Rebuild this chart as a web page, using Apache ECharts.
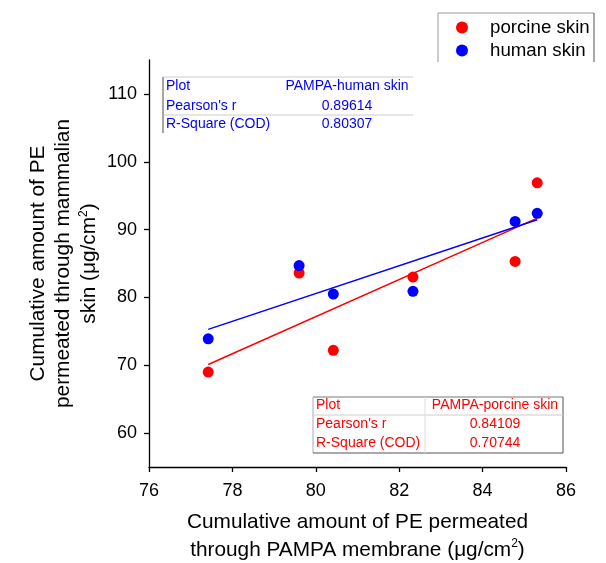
<!DOCTYPE html>
<html>
<head>
<meta charset="utf-8">
<script src="https://cdn.jsdelivr.net/npm/echarts@6/dist/echarts.min.js"></script>
<style>html,body{margin:0;padding:0;background:#fff}#c{width:606px;height:563px}</style>
</head>
<body>
<div id="c"></div>
<script>
// Data
const pampa = [77.42, 79.60, 80.42, 82.33, 84.78, 85.31];
const porcine = [69.0, 83.6, 72.2, 83.0, 85.3, 96.9];
const human = [73.9, 84.7, 80.5, 80.9, 91.2, 92.4];
const seriesNames = ['porcine skin', 'human skin'];
const xTicks = [76, 78, 80, 82, 84, 86];
const yTicks = [60, 70, 80, 90, 100, 110];
const tableLabels = ['Plot', "Pearson's r", 'R-Square (COD)'];
const humanTable = ['PAMPA-human skin', '0.89614', '0.80307'];
const porcineTable = ['PAMPA-porcine skin', '0.84109', '0.70744'];

function fit(xs, ys) {
  const n = xs.length;
  const mx = xs.reduce((a, b) => a + b, 0) / n;
  const my = ys.reduce((a, b) => a + b, 0) / n;
  let sxy = 0, sxx = 0;
  for (let i = 0; i < n; i++) { sxy += (xs[i] - mx) * (ys[i] - my); sxx += (xs[i] - mx) ** 2; }
  const b = sxy / sxx, a = my - b * mx;
  const x0 = Math.min(...xs), x1 = Math.max(...xs);
  return [[x0, a + b * x0], [x1, a + b * x1]];
}
const pairs = (xs, ys) => xs.map((x, i) => [x, ys[i]]);

const FONT = 'Liberation Sans, Arial, sans-serif';
const RED = '#ff0000', BLUE = '#0000ff';
const TFONT = '14px ' + FONT;

function tableTexts(x0, xc, ys, vals, color) {
  const out = [];
  tableLabels.forEach((t, i) => out.push({type: 'text', x: x0, y: ys[i], style: {text: t, fill: color, font: TFONT, align: 'left', verticalAlign: 'middle'}}));
  vals.forEach((t, i) => out.push({type: 'text', x: xc, y: ys[i], style: {text: t, fill: color, font: TFONT, align: 'center', verticalAlign: 'middle'}}));
  return out;
}
function ln(x1, y1, x2, y2, c, w) { return {type: 'line', shape: {x1, y1, x2, y2}, style: {stroke: c, lineWidth: w || 1}}; }

const chart = echarts.init(document.getElementById('c'), null, {renderer: 'canvas'});
chart.setOption({
  backgroundColor: '#fff',
  animation: false,
  textStyle: {fontFamily: FONT},
  grid: {left: 149, right: 40, top: 60, bottom: 96, containLabel: false, outerBoundsMode: 'none'},
  legend: {
    orient: 'vertical', left: 451, top: 11, itemWidth: 12, itemHeight: 12, itemGap: 0,
    icon: 'circle', data: seriesNames,
    textStyle: {fontSize: 18.7, color: '#000', fontFamily: FONT, lineHeight: 23, padding: [0, 0, 0, 17]}
  },
  xAxis: {
    type: 'value', min: xTicks[0], max: xTicks[xTicks.length - 1], interval: 2,
    splitLine: {show: false},
    axisLine: {lineStyle: {color: '#000', width: 1.3}},
    axisTick: {inside: false, length: 5, lineStyle: {color: '#000', width: 1.3}},
    axisLabel: {fontSize: 18, color: '#000', margin: 15, fontFamily: FONT},
    name: 'Cumulative amount of PE permeated\nthrough PAMPA membrane (μg/cm{sup|2})',
    nameLocation: 'middle', nameGap: 41,
    nameTextStyle: {fontSize: 20.8, color: '#000', lineHeight: 28, fontFamily: FONT, verticalAlign: 'top',
      rich: {sup: {fontSize: 12, color: '#000', padding: [0, 0, 12, 0], fontFamily: FONT}}}
  },
  yAxis: {
    type: 'value', min: 55, max: 115,
    splitLine: {show: false},
    axisLine: {show: true, lineStyle: {color: '#000', width: 1.3}},
    axisTick: {show: true, inside: false, length: 5, customValues: yTicks, lineStyle: {color: '#000', width: 1.3}},
    axisLabel: {fontSize: 18, color: '#000', margin: 12, customValues: yTicks, fontFamily: FONT},
    name: 'Cumulative amount of PE\npermeated through mammalian\nskin (μg/cm{sup|2})',
    nameLocation: 'middle', nameRotate: 90, nameGap: 47, nameMoveOverlap: false,
    nameTextStyle: {fontSize: 20.8, color: '#000', lineHeight: 25.5, fontFamily: FONT,
      rich: {sup: {fontSize: 12, color: '#000', padding: [0, 0, 12, 0], fontFamily: FONT}}}
  },
  series: [
    {name: seriesNames[0], type: 'scatter', data: pairs(pampa, porcine), symbolSize: 11, itemStyle: {color: RED, opacity: 1}, z: 3},
    {name: seriesNames[1], type: 'scatter', data: pairs(pampa, human), symbolSize: 11, itemStyle: {color: BLUE, opacity: 1}, z: 3},
    {name: 'fit-porcine', type: 'line', data: fit(pampa, porcine), symbol: 'none', lineStyle: {color: RED, width: 1.5}, z: 2},
    {name: 'fit-human', type: 'line', data: fit(pampa, human), symbol: 'none', lineStyle: {color: BLUE, width: 1.5}, z: 2}
  ],
  graphic: [
    // legend frame
    ln(438, 13, 594, 13, '#999'), ln(438, 13, 438, 62, '#999'), ln(594, 13, 594, 62, '#555'),
    // human table
    ln(163, 77, 413, 77, '#ccc'), ln(163, 115, 413, 115, '#ccc'), ln(163, 77, 163, 133, '#888', 1.5),
    ...tableTexts(166, 347, [86, 106, 124], humanTable, BLUE),
    // porcine table
    ln(313, 397, 563, 397, '#777'), ln(313, 397, 313, 453, '#aaa'), ln(563, 397, 563, 453, '#555'), ln(313, 453, 563, 453, '#555'),
    ln(313, 415, 563, 415, '#ccc'), ln(425, 397, 425, 453, '#ddd'),
    ...tableTexts(316, 495, [405, 424, 443], porcineTable, RED)
  ]
});
</script>
</body>
</html>
